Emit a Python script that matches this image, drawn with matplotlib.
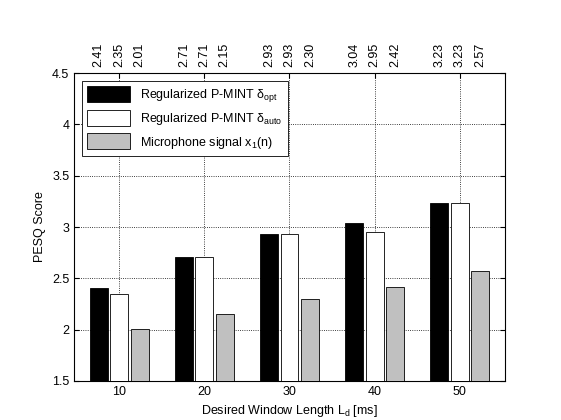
import matplotlib
matplotlib.use("Agg")
import matplotlib.pyplot as plt
import numpy as np

plt.rcParams["font.family"] = ["Liberation Sans", "DejaVu Sans"]
plt.rcParams["font.size"] = 9
plt.rcParams["mathtext.default"] = "regular"

lengths = [10, 20, 30, 40, 50]
pesq_opt = [2.41, 2.71, 2.93, 3.04, 3.23]
pesq_auto = [2.35, 2.71, 2.93, 2.95, 3.23]
pesq_mic = [2.01, 2.15, 2.30, 2.42, 2.57]

fig = plt.figure(figsize=(5.61, 4.2), dpi=100)
ax = fig.add_axes([0.132, 0.093, 0.768, 0.733])

w = 2.1
off = 2.4
x = np.array(lengths, dtype=float)
series = [
    (pesq_opt, "black", r"Regularized P-MINT $\delta_{opt}$"),
    (pesq_auto, "white", r"Regularized P-MINT $\delta_{auto}$"),
    (pesq_mic, "#c0c0c0", r"Microphone signal $x_1$(n)"),
]
for k, (vals, col, lab) in enumerate(series):
    xs = x + (k - 1) * off
    ax.bar(xs, vals, width=w, color=col, edgecolor="black", linewidth=0.6,
           label=lab, zorder=3)
    for xi, v in zip(xs, vals):
        ax.text(xi, 4.56, f"{v:.2f}", rotation=90, ha="center", va="bottom",
                fontsize=9, clip_on=False)

ax.set_xlim(4.7, 55.3)
ax.set_ylim(1.5, 4.5)
ax.set_xticks(lengths)
ax.set_yticks(np.arange(1.5, 4.51, 0.5))
ax.set_yticklabels(["1.5", "2", "2.5", "3", "3.5", "4", "4.5"])
ax.grid(True, linestyle=":", color="black", linewidth=0.6, zorder=0)
ax.tick_params(direction="in", top=True, right=True)
ax.set_xlabel("Desired Window Length L$_{d}$ [ms]")
ax.set_ylabel("PESQ Score")
leg = ax.legend(loc="upper left", fancybox=False, edgecolor="black",
                framealpha=1, handlelength=3.5, handleheight=1.6,
                borderaxespad=0.6)
leg.get_frame().set_linewidth(0.6)

fig.savefig("out.png", dpi=100)
